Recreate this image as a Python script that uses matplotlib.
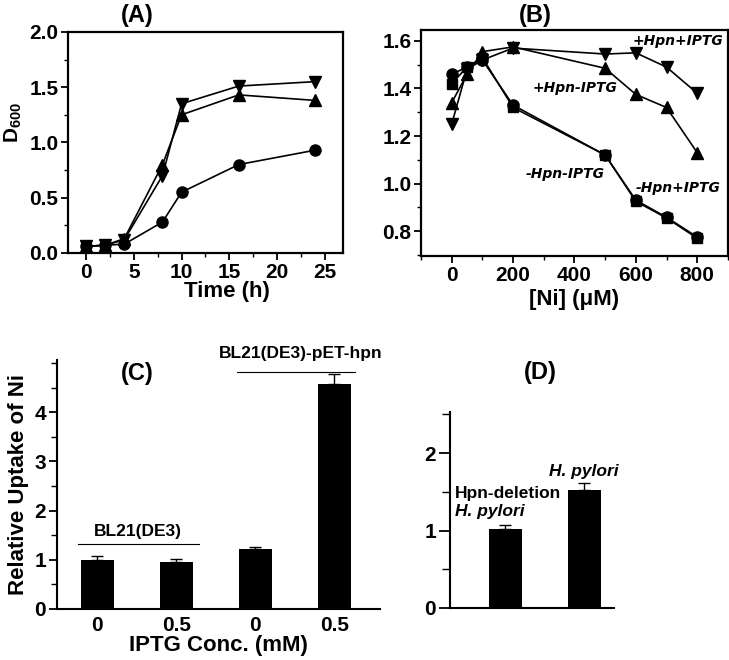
import matplotlib
matplotlib.use('Agg')
import matplotlib.pyplot as plt
from matplotlib.ticker import MultipleLocator

plt.rcParams['font.family'] = ['Liberation Sans', 'DejaVu Sans']
plt.rcParams['font.weight'] = 'bold'
plt.rcParams['mathtext.fontset'] = 'custom'
plt.rcParams['mathtext.rm'] = 'Liberation Sans:bold'
plt.rcParams['mathtext.bf'] = 'Liberation Sans:bold'

# (A) growth curves
time_h = [0, 2, 4, 8, 10, 16, 24]
a_circle = [0.06, 0.07, 0.08, 0.28, 0.55, 0.80, 0.93]
a_up = [0.06, 0.07, 0.13, 0.80, 1.25, 1.43, 1.38]
a_down = [0.06, 0.07, 0.12, 0.70, 1.35, 1.51, 1.55]

# (B) Ni tolerance
ni_um = [0, 50, 100, 200, 500, 600, 700, 800]
b_pos_iptg = [1.25, 1.48, 1.52, 1.57, 1.545, 1.55, 1.49, 1.38]
b_pos_noiptg = [1.34, 1.46, 1.555, 1.575, 1.485, 1.375, 1.32, 1.13]
b_neg_noiptg = [1.46, 1.49, 1.52, 1.33, 1.12, 0.93, 0.858, 0.775]
b_neg_iptg = [1.42, 1.49, 1.53, 1.32, 1.12, 0.925, 0.855, 0.77]

# (C) relative Ni uptake
c_labels = ['0', '0.5', '0', '0.5']
c_values = [1.0, 0.96, 1.22, 4.58]
c_err = [0.08, 0.06, 0.045, 0.2]

# (D) H. pylori uptake
d_values = [1.015, 1.52]
d_err = [0.055, 0.09]

TICK = 15
LAB = 16

fig = plt.figure(figsize=(7.29, 6.6), dpi=100)

def style_line_axes(ax):
    for s in ax.spines.values():
        s.set_linewidth(1.6)
    ax.tick_params(which='major', direction='out', length=5, width=1.3, labelsize=TICK, pad=2)
    ax.tick_params(which='minor', direction='out', length=3, width=1.0)

# ---- A ----
axA = fig.add_axes([0.0933, 0.6167, 0.377, 0.335])
kw = dict(color='black', lw=1.2, ms=8)
axA.plot(time_h, a_circle, marker='o', **kw)
axA.plot(time_h, a_up, marker='^', **kw)
axA.plot(time_h, a_down, marker='v', **kw)
axA.set_xlim(-1.9, 26.9)
axA.set_ylim(0, 2.0)
axA.xaxis.set_major_locator(MultipleLocator(5))
axA.xaxis.set_minor_locator(MultipleLocator(2.5))
axA.yaxis.set_minor_locator(MultipleLocator(0.25))
style_line_axes(axA)
axA.set_yticks([0, 0.5, 1.0, 1.5, 2.0])
axA.set_yticklabels(['0.0', '0.5', '1.0', '1.5', '2.0'])
axA.set_xlabel('Time (h)', fontsize=LAB, fontweight='bold')
axA.xaxis.set_label_coords(0.578, -0.125)
axA.set_ylabel(r'D$_{600}$', fontsize=15, fontweight='bold')
axA.yaxis.set_label_coords(-0.16, 0.59)
fig.text(0.188, 0.977, '(A)', ha='center', va='center', fontsize=17, fontweight='bold')

# ---- B ----
axB = fig.add_axes([0.5775, 0.6121, 0.421, 0.3424])
axB.plot(ni_um, b_pos_iptg, marker='v', **kw)
axB.plot(ni_um, b_pos_noiptg, marker='^', **kw)
axB.plot(ni_um, b_neg_noiptg, marker='o', **kw)
axB.plot(ni_um, b_neg_iptg, marker='s', color='black', lw=1.2, ms=7)
axB.set_xlim(-100, 900)
axB.set_ylim(0.695, 1.646)
axB.xaxis.set_major_locator(MultipleLocator(200))
axB.xaxis.set_minor_locator(MultipleLocator(100))
axB.yaxis.set_minor_locator(MultipleLocator(0.1))
style_line_axes(axB)
axB.set_yticks([0.8, 1.0, 1.2, 1.4, 1.6])
axB.set_yticklabels(['0.8', '1.0', '1.2', '1.4', '1.6'])
axB.set_xlabel('[Ni] (\u03bcM)', fontsize=LAB, fontweight='bold', labelpad=3)
lab_kw = dict(fontsize=10, fontweight='bold', family=['DejaVu Sans'], style='italic', ha='left', va='center')
axB.text(590, 1.598, '+Hpn+IPTG', **lab_kw)
axB.text(265, 1.40, '+Hpn-IPTG', **lab_kw)
axB.text(240, 1.04, '-Hpn-IPTG', **lab_kw)
axB.text(600, 0.98, '-Hpn+IPTG', **lab_kw)
fig.text(0.734, 0.977, '(B)', ha='center', va='center', fontsize=17, fontweight='bold')

# ---- C ----
axC = fig.add_axes([0.0782, 0.0773, 0.443, 0.3772])
xc = list(range(len(c_values)))
axC.bar(xc, c_values, width=0.42, color='black',
        yerr=[[0] * len(c_err), c_err], capsize=4,
        error_kw=dict(ecolor='black', elinewidth=1.0, capthick=1.0))
axC.set_xlim(-0.51, 3.58)
axC.set_ylim(0, 5.06)
axC.spines['top'].set_visible(False)
axC.spines['right'].set_visible(False)
axC.spines['left'].set_linewidth(1.5)
axC.spines['bottom'].set_linewidth(1.5)
axC.set_xticks(xc)
axC.set_xticklabels(c_labels)
axC.tick_params(axis='x', length=0, pad=5, labelsize=TICK)
axC.set_yticks([0, 1, 2, 3, 4])
axC.yaxis.set_minor_locator(MultipleLocator(0.5))
axC.tick_params(axis='y', which='major', length=6, width=1.3, labelsize=TICK, pad=2)
axC.tick_params(axis='y', which='minor', length=4, width=1.0)
axC.set_xlabel('IPTG Conc. (mM)', fontsize=LAB, fontweight='bold', labelpad=0)
axC.set_ylabel('Relative Uptake of Ni', fontsize=LAB, fontweight='bold', labelpad=4)
axC.plot([-0.24, 1.29], [1.32, 1.32], color='black', lw=0.8, clip_on=False)
axC.text(0.52, 1.58, 'BL21(DE3)', ha='center', va='center', fontsize=12.5, fontweight='bold')
axC.plot([1.77, 3.27], [4.81, 4.81], color='black', lw=0.8, clip_on=False)
axC.text(2.57, 5.2, 'BL21(DE3)-pET-hpn', ha='center', va='center', fontsize=12.5, fontweight='bold')
axC.text(0.5, 4.79, '(C)', ha='center', va='center', fontsize=17, fontweight='bold')

# ---- D ----
axD = fig.add_axes([0.6173, 0.0788, 0.225, 0.297])
xd = [0, 1]
axD.bar(xd, d_values, width=0.42, color='black',
        yerr=[[0, 0], d_err], capsize=4,
        error_kw=dict(ecolor='black', elinewidth=1.0, capthick=1.0))
axD.set_xlim(-0.70, 1.38)
axD.set_ylim(0, 2.53)
axD.spines['top'].set_visible(False)
axD.spines['right'].set_visible(False)
axD.spines['left'].set_linewidth(1.5)
axD.spines['bottom'].set_linewidth(1.5)
axD.set_xticks([])
axD.yaxis.set_major_locator(MultipleLocator(1))
axD.yaxis.set_minor_locator(MultipleLocator(0.5))
axD.tick_params(axis='y', which='major', length=8, width=1.3, labelsize=TICK, pad=2)
axD.tick_params(axis='y', which='minor', length=6, width=1.0)
axD.text(-0.64, 1.48, 'Hpn-deletion', ha='left', va='center', fontsize=12.5, fontweight='bold')
axD.text(-0.64, 1.24, 'H. pylori', ha='left', va='center', fontsize=12.5, fontweight='bold', style='italic')
axD.text(1.0, 1.76, 'H. pylori', ha='center', va='center', fontsize=12.5, fontweight='bold', style='italic')
fig.text(0.741, 0.435, '(D)', ha='center', va='center', fontsize=17, fontweight='bold')

fig.savefig('out.png', dpi=100)
